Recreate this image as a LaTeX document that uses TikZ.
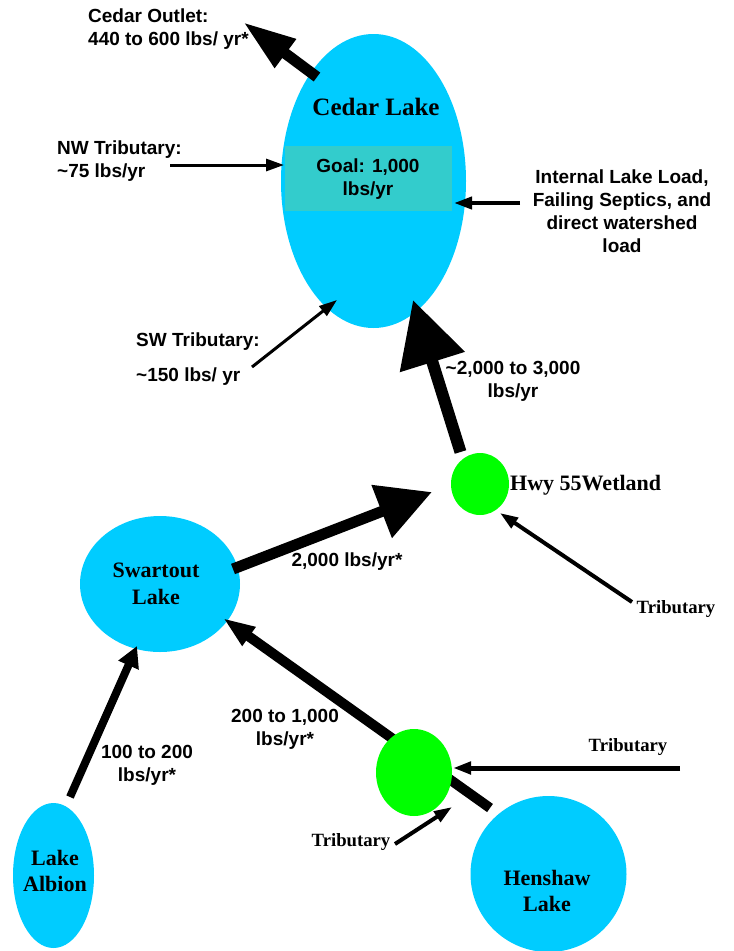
\documentclass[tikz,border=0pt]{standalone}
\usepackage{fontspec}
\setmainfont{Liberation Serif}
\newfontfamily\arialf{Liberation Sans}
\usetikzlibrary{arrows.meta,shapes.geometric}
\definecolor{lakeblue}{HTML}{00CCFF}
\definecolor{wetgreen}{HTML}{00FF00}
\definecolor{goalteal}{HTML}{33CCCC}
\begin{document}
\begin{tikzpicture}[x=1pt,y=-1pt,
  lake/.style={ellipse, fill=lakeblue, draw=none, inner sep=0pt},
  wet/.style={ellipse, fill=wetgreen, draw=none, inner sep=0pt},
  sanslabel/.style={font=\arialf\bfseries\fontsize{19}{23}\selectfont, align=center, inner sep=0pt},
  seriflabel/.style={font=\bfseries\fontsize{22}{26}\selectfont, align=center, inner sep=0pt},
  triblabel/.style={font=\bfseries\fontsize{18.7}{22}\selectfont, inner sep=0pt},
  flow/.style n args={3}{line width=#1, line cap=butt, -{Triangle[length=#2,width=#3]}},
  thinflow/.style={line width=#1, -{Triangle[length=18pt,width=12pt]}}
]
\useasboundingbox (0,0) rectangle (734,951);
\fill[white] (0,0) rectangle (734,951);

% lakes
\node[lake, minimum width=185pt, minimum height=294pt] (cedar) at (373.5,181) {};
\node[fill=goalteal, minimum width=167pt, minimum height=65pt, inner sep=0pt] (goal) at (368.5,178.5) {};
\node[sanslabel] (goaltxt) at (368,179) {Goal: 1,000\\lbs/yr};
\node[font=\bfseries\fontsize{25}{30}\selectfont, inner sep=0pt] (cedartxt) at (376,107) {Cedar Lake};

\node[lake, minimum width=160pt, minimum height=136pt] (swartout) at (160,584) {};
\node[seriflabel, font=\bfseries\fontsize{22}{27}\selectfont] (swarttxt) at (156,583.5) {Swartout\\Lake};

\node[lake, minimum width=81pt, minimum height=145pt] (albion) at (53.5,875.5) {};
\node[seriflabel] (albiontxt) at (55,871) {Lake\\Albion};

\node[lake, minimum width=156pt, minimum height=156pt] (henshaw) at (548.5,874) {};
\node[seriflabel] (henshawtxt) at (547,891) {Henshaw\\Lake};

% coordinates
\coordinate (outA) at (317,77);   \coordinate (outB) at (243,22);
\coordinate (nwA) at (170,165);   \coordinate (nwB) at (284,165);
\coordinate (inA) at (520,203);   \coordinate (inB) at (454,203);
\coordinate (swA) at (252,367);   \coordinate (swB) at (337,300);
\coordinate (hwyA) at (460.5,452); \coordinate (hwyB) at (413,300);
\coordinate (swtA) at (233,569);  \coordinate (swtB) at (432,492);
\coordinate (trA) at (632,602);   \coordinate (trB) at (500,513);
\coordinate (alA) at (70,797);    \coordinate (alB) at (137,646);
\coordinate (heA) at (490,808);   \coordinate (heB) at (223,618);
\coordinate (t2A) at (680,768);   \coordinate (t2B) at (453,768);
\coordinate (t3A) at (395,844);   \coordinate (t3B) at (452,807);

% Henshaw line behind wetland
\draw[flow={10pt}{32pt}{21pt}] (heA) -- (heB);

% wetlands
\node[wet, minimum width=58pt, minimum height=62pt] (hwy) at (480,484) {};
\node[wet, minimum width=76pt, minimum height=87pt] (lowwet) at (414,772.5) {};

% arrows
\draw[flow={11pt}{53pt}{33pt}] (outA) -- (outB);
\draw[thinflow=3pt] (nwA) -- (nwB);
\draw[thinflow=4pt] (inA) -- (inB);
\draw[thinflow=3pt] (swA) -- (swB);
\draw[flow={12pt}{65pt}{65pt}] (hwyA) -- (hwyB);
\draw[flow={11pt}{54pt}{54pt}] (swtA) -- (swtB);
\draw[thinflow=4pt] (trA) -- (trB);
\draw[flow={8pt}{21pt}{21pt}] (alA) -- (alB);
\draw[thinflow=5pt] (t2A) -- (t2B);
\draw[thinflow=4pt] (t3A) -- (t3B);

% labels
\node[sanslabel, align=left, anchor=west] (outtxt) at (88,29) {Cedar Outlet:\\440 to 600 lbs/ yr*};
\node[sanslabel, align=left, anchor=west] (nwtxt) at (57,161) {NW Tributary:\\\textasciitilde75 lbs/yr};
\node[sanslabel] (intxt) at (622,211.5) {Internal Lake Load,\\Failing Septics, and\\direct watershed\\load};
\node[sanslabel, anchor=west] (swtxt1) at (136,342) {SW Tributary:};
\node[sanslabel, anchor=west] (swtxt2) at (136,377) {\textasciitilde150 lbs/ yr};
\node[sanslabel] (hwyflowtxt) at (513,381) {\textasciitilde2,000 to 3,000\\lbs/yr};
\node[font=\bfseries\fontsize{22}{26}\selectfont, inner sep=0pt, anchor=west] (hwytxt) at (510,485) {Hwy 55Wetland};
\node[sanslabel] (swtflowtxt) at (347,562) {2,000 lbs/yr*};
\node[triblabel] (tr1txt) at (676,609) {Tributary};
\node[sanslabel] (altxt) at (147,765) {100 to 200\\lbs/yr*};
\node[sanslabel] (hetxt) at (285,729.5) {200 to 1,000\\lbs/yr*};
\node[triblabel] (tr2txt) at (628,747) {Tributary};
\node[triblabel] (tr3txt) at (351,842) {Tributary};
\end{tikzpicture}
\end{document}
